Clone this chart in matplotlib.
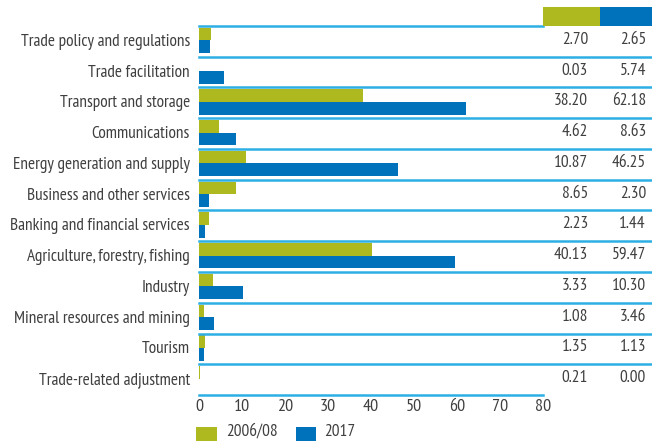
import matplotlib
matplotlib.use("Agg")
import matplotlib.pyplot as plt
from matplotlib.patches import Rectangle

categories = [
    "Trade policy and regulations",
    "Trade facilitation",
    "Transport and storage",
    "Communications",
    "Energy generation and supply",
    "Business and other services",
    "Banking and financial services",
    "Agriculture, forestry, fishing",
    "Industry",
    "Mineral resources and mining",
    "Tourism",
    "Trade-related adjustment",
]
values_2006 = [2.70, 0.03, 38.20, 4.62, 10.87, 8.65, 2.23, 40.13, 3.33, 1.08, 1.35, 0.21]
values_2017 = [2.65, 5.74, 62.18, 8.63, 46.25, 2.30, 1.44, 59.47, 10.30, 3.46, 1.13, 0.00]
series_labels = ["2006/08", "2017"]
xticks = [0, 10, 20, 30, 40, 50, 60, 70, 80]

GREEN = "#ADB91E"
BLUE = "#0071BB"
LINE = "#2DAEE4"
TXT = "#3f3f3f"

plt.rcParams['font.family'] = ['PT Sans Narrow', 'DejaVu Sans']

W, H = 652, 441
fig = plt.figure(figsize=(W / 100, H / 100), dpi=100)

x0, x1 = 199, 543
ytop, ybot = 26, 395
ax = fig.add_axes([x0 / W, (H - ybot) / H, (x1 - x0) / W, (ybot - ytop) / H])

n = len(categories)
rows = list(range(n))
ax.barh([r + 0.265 for r in rows], values_2006, height=0.40, color=GREEN, linewidth=0)
ax.barh([r + 0.675 for r in rows], values_2017, height=0.41, color=BLUE, linewidth=0)

ax.set_xlim(0, 80)
ax.set_ylim(n, 0)

for s in ["top", "right", "left"]:
    ax.spines[s].set_visible(False)
ax.spines["bottom"].set_color(LINE)
ax.spines["bottom"].set_linewidth(1.8)

FS = 12.4
ax.set_xticks(xticks)
ax.set_xticklabels([str(t) for t in xticks], fontsize=13, color=TXT)
ax.tick_params(axis="x", length=0, pad=3)

ax.set_yticks([r + 0.45 for r in rows])
ax.set_yticklabels(categories, fontsize=FS, color=TXT)
ax.tick_params(axis="y", length=0, pad=6.5)

# separators
tr = ax.get_yaxis_transform()
xr = (W - x0) / (x1 - x0)
ax.plot([0, 1], [0, 0], transform=tr, color=LINE, lw=1.8, clip_on=False)
for r in range(1, n):
    ax.plot([0, xr], [r, r], transform=tr, color=LINE, lw=1.8, clip_on=False)

# value columns
c1 = (588 - x0) / (x1 - x0)
c2 = (646 - x0) / (x1 - x0)
for r in rows:
    ax.text(c1, r + 0.45, f"{values_2006[r]:.2f}", transform=tr, ha="right", va="center",
            fontsize=FS, color=TXT)
    ax.text(c2, r + 0.45, f"{values_2017[r]:.2f}", transform=tr, ha="right", va="center",
            fontsize=FS, color=TXT)

# header colour blocks
def fig_rect(px0, py0, px1, py1, color):
    fig.add_artist(Rectangle((px0 / W, (H - py1) / H), (px1 - px0) / W, (py1 - py0) / H,
                             transform=fig.transFigure, color=color, linewidth=0))

fig_rect(543, 7, 600, 26, GREEN)
fig_rect(600, 7, 652, 26, BLUE)

# legend
fig_rect(196, 427, 217, 445, GREEN)
fig_rect(296, 427, 316, 445, BLUE)
fig.text(226 / W, (H - 432) / H, series_labels[0], ha="left", va="center", fontsize=12.4, color=TXT)
fig.text(324 / W, (H - 432) / H, series_labels[1], ha="left", va="center", fontsize=12.4, color=TXT)

fig.savefig("out.png", dpi=100)
